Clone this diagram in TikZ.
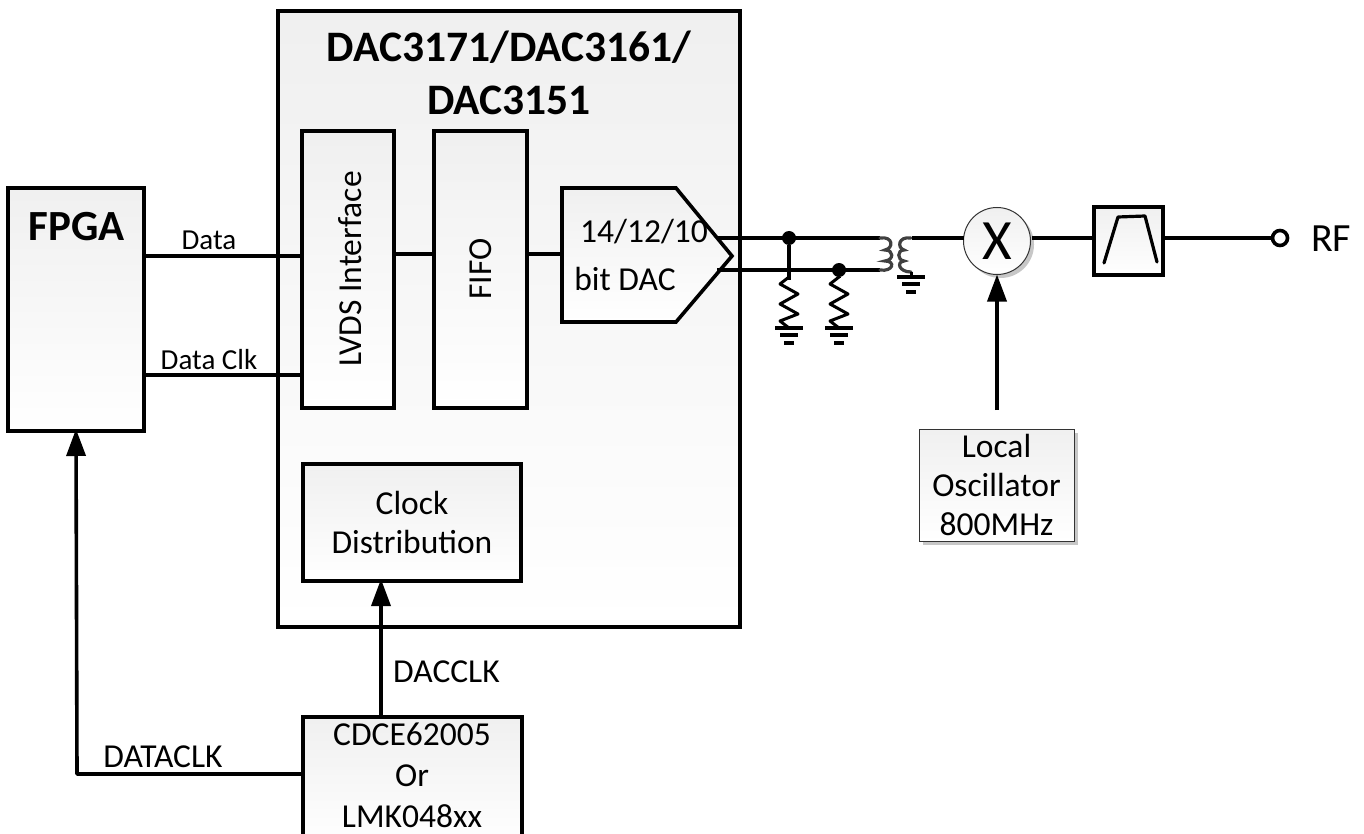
\documentclass[tikz,border=0pt]{standalone}
\usepackage{fontspec}
\setmainfont{Carlito}
\usetikzlibrary{arrows.meta,shadows,calc}
\newcommand{\fs}[1]{\fontsize{#1}{#1}\selectfont}
\tikzset{
 x=1pt,y=-1pt,
 wire/.style={line width=3.6pt,black,line join=round},
 arrowwire/.style={wire,-{Triangle[length=27pt,width=19pt]},shorten >=-2pt},
 thickbox/.style={draw=black,line width=3.6pt,top color=black!6,bottom color=white,inner sep=0pt,outer sep=0pt,align=center,anchor=north west},
 thinbox/.style={draw=black!80,line width=1pt,top color=black!6,bottom color=white,inner sep=0pt,outer sep=0pt,align=center,anchor=north west,general shadow={shadow xshift=3.5pt,shadow yshift=-3.5pt,fill=black!22}},
 lab/.style={inner sep=0pt,font=\fs{33.5}},
 dot/.style={circle,fill=black,inner sep=0pt,minimum size=14pt},
 coil/.style={line width=3.2pt,black!75,line cap=round},
 gnd/.style={line width=3.2pt,black},
}
\newcommand{\gnd}[2]{%
 \draw[gnd] (#1-14,#2)--(#1+14,#2);
 \draw[gnd] (#1-9,#2+7)--(#1+9,#2+7);
 \draw[gnd] (#1-5,#2+15)--(#1+5,#2+15);}
\newcommand{\resistor}[2]{%
 \draw[wire,line width=3pt] (#1,#2)--(#1-9,#2+7)--(#1+9,#2+17)--(#1-9,#2+27)--(#1+9,#2+37)--(#1-9,#2+44)--(#1,#2+51);}
\begin{document}
\begin{tikzpicture}
\useasboundingbox (0,0) rectangle (1364,834);
\node[thickbox,minimum width=136pt,minimum height=243pt] (fpga) at (8,188) {};
\node[font=\fs{43}\bfseries,anchor=center,inner sep=0pt] (fpgat) at (77,227) {FPGA};
\node[thickbox,minimum width=462pt,minimum height=616pt] (main) at (278,11) {};
\node[font=\fs{43.5}\bfseries,align=center,anchor=center,inner sep=0pt] (maint) at (509,73) {DAC3171/DAC3161/\\[9.5pt]DAC3151};
\node[thickbox,minimum width=92pt,minimum height=277pt] (lvds) at (302,131) {};
\node[lab,rotate=90] (lvdst) at (350,269) {LVDS Interface};
\node[thickbox,minimum width=93pt,minimum height=277pt] (fifo) at (434,131) {};
\node[lab,rotate=90] (fifot) at (481,269) {FIFO};
\draw[thickbox] (562,188)--(676,188)--(732,256)--(676,322)--(562,322)--cycle;
\coordinate (dacin) at (562,254);
\node[lab] (dact1) at (644,232) {14/12/10};
\node[lab] (dact2) at (625,279) {bit DAC};
\node[thickbox,minimum width=218pt,minimum height=117pt,font=\fs{33.5},text width=218pt] (clk) at (303,464) {Clock\\[5.5pt]Distribution};
\node[thickbox,minimum width=219pt,minimum height=130pt] (cdce) at (303,717) {};
\node[lab,align=center] (cdcet) at (412,775.5) {CDCE62005\\[7.5pt]Or\\[7.5pt]LMK048xx};
\node[thinbox,minimum width=155pt,minimum height=112pt,font=\fs{33.5},text width=155pt] (lo) at (919,429) {Local\\[5.5pt]Oscillator\\[5.5pt]800MHz};
\node[thinbox,circle,anchor=center,minimum size=67pt] (mix) at (997,241) {};
\node[font=\fs{57},inner sep=0pt] (mixt) at (997,241) {X};
\node[thickbox,minimum width=69pt,minimum height=68pt] (filt) at (1094,207) {};
\draw[wire,line width=3.2pt,line cap=round] (1104,263)--(1118,217)--(1145,216)--(1157,262);
\node[circle,draw=black,line width=3.6pt,fill=white,minimum size=15pt,inner sep=0pt] (rf) at (1280,238) {};
\node[inner sep=0pt,font=\fs{40},anchor=west] (rft) at (1311,239) {RF};
% connectors
\draw[wire] (144,256) -- (302,256);
\draw[wire] (144,375) -- (302,375);
\node[lab,font=\fs{29}] (datat) at (209,240) {Data};
\node[lab,font=\fs{29}] (dclkt) at (209,360) {Data Clk};
\draw[wire] (394,254) -- (434,254);
\draw[wire] (527,254) -- (dacin);
\coordinate (tl1) at (880,238); \coordinate (tl2) at (880,270);
\draw[wire] (717,238)--(tl1);
\draw[wire] (717,270)--(tl2);
\node[dot] (j1) at (789,238) {};
\node[dot] (j2) at (839,270) {};
\draw[wire] (j1)--(789,280);
\resistor{789}{277}
\gnd{789}{328}
\draw[wire] (j2)--(839,277);
\resistor{839}{277}
\gnd{839}{328}
% transformer
\draw[coil] (880,238) .. controls (893,236) and (894,248) .. (885,250) .. controls (894,250) and (894,260) .. (885,261) .. controls (896,261) and (893,272) .. (880,270);
\draw[coil] (911,238) .. controls (898,236) and (897,248) .. (904,250) .. controls (897,250) and (897,260) .. (904,261) .. controls (896,262) and (899,272) .. (911,272);
\draw[wire,line width=3pt] (911,272)--(911,277);
\gnd{911}{277}
\draw[wire] (912,238)--(mix.west |- 0,238);
\draw[wire] (1032,238)--(filt.west |- 0,238);
\draw[wire] (filt.east |- 0,238)--(rf);
\draw[arrowwire,shorten >=0pt] (997,410)--(mix.south);
\draw[arrowwire] (cdce.north -| 381,0)--(clk.south -| 381,0);
\node[lab,anchor=west] (dacclkt) at (393,672) {DACCLK};
\draw[arrowwire] (cdce.west |- 0,774)--(77,774)--(fpga.south);
\node[lab] (dataclkt) at (163,757) {DATACLK};
\end{tikzpicture}
\end{document}
